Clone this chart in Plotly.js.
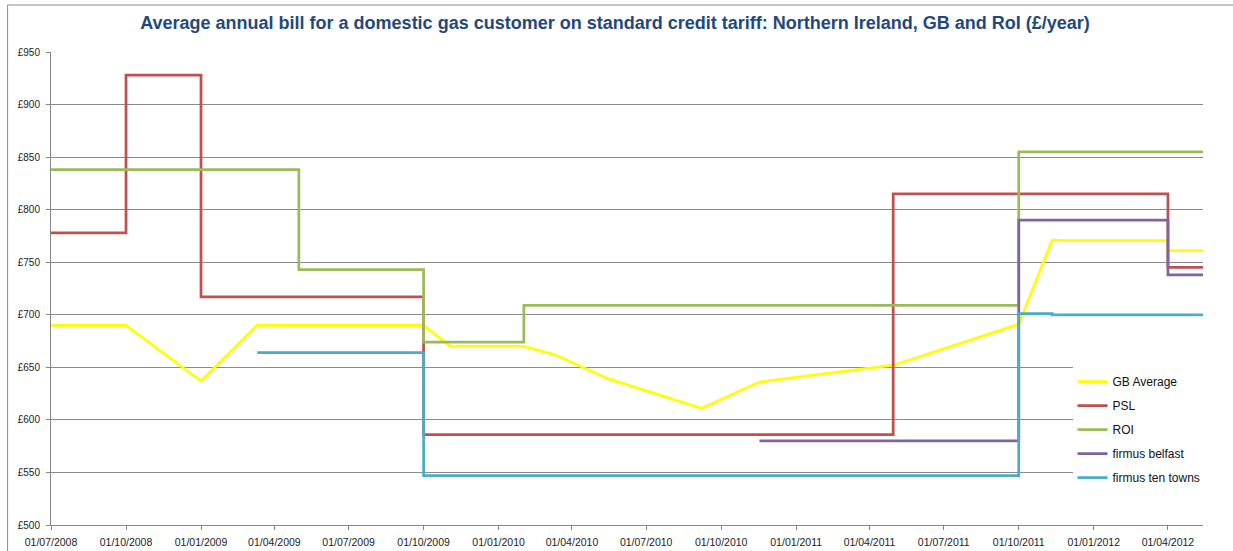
<!DOCTYPE html>
<html>
<head>
<meta charset="utf-8">
<script src="https://cdn.plot.ly/plotly-3.0.1.min.js"></script>
<style>
  html, body { margin: 0; padding: 0; background: #ffffff; }
  #chart { width: 1233px; height: 551px; }
</style>
</head>
<body>
<div id="chart"></div>
<script>
// ---- Data ----
const seriesNames = ["GB Average", "PSL", "ROI", "firmus belfast", "firmus ten towns"];

const gbDates = ["2008-07-01", "2008-10-01", "2009-01-01", "2009-03-11", "2009-10-01", "2009-11-03",
                 "2010-02-01", "2010-03-11", "2010-05-16", "2010-09-07", "2010-11-17", "2011-04-30",
                 "2011-10-01", "2011-11-11", "2011-11-25", "2012-04-01", "2012-04-01", "2012-05-14"];
const gbValues = [690, 690, 637, 690, 690, 670,
                  670, 662, 639, 611, 636, 652,
                  691, 771, 770.5, 770.5, 761, 761];

// step series: value holds from its date until the next date
const pslDates  = ["2008-07-01", "2008-10-01", "2009-01-01", "2009-10-01", "2011-04-30", "2012-04-01", "2012-05-14"];
const pslValues = [778, 928, 717, 586, 815, 745, 745];

const roiDates  = ["2008-07-01", "2009-05-01", "2009-10-01", "2010-02-01", "2011-10-01", "2012-05-14"];
const roiValues = [838, 743, 674, 709, 855, 855];

const belfastDates  = ["2010-11-17", "2011-10-01", "2012-04-01", "2012-05-14"];
const belfastValues = [580, 790, 738, 738];

const tenTownsDates  = ["2009-03-11", "2009-10-01", "2011-10-01", "2011-11-11", "2012-05-14"];
const tenTownsValues = [664, 547, 701, 700, 700];

const colors = ["#FFFF00", "#C0504D", "#9BBB59", "#8064A2", "#4BACC6"];

// ---- Layout geometry ----
const W = 1233, H = 551;
const mL = 51.4, mR = W - 1203.5, mT = 52, mB = H - 525;
const plotW = W - mL - mR, plotH = H - mT - mB;
const px2paperX = px => (px - mL) / plotW;
const px2paperY = py => (H - mB - py) / plotH;

function mk(i, x, y, shape) {
  return {
    type: "scatter", mode: "lines", name: seriesNames[i],
    x: x, y: y, legendgroup: "g" + i,
    line: { color: colors[i], width: 2.75, shape: shape },
    hoverinfo: "skip"
  };
}

const traces = [
  mk(0, gbDates, gbValues, "linear"),
  mk(1, pslDates, pslValues, "hv"),
  mk(2, roiDates, roiValues, "hv"),
  mk(3, belfastDates, belfastValues, "hv"),
  mk(4, tenTownsDates, tenTownsValues, "hv")
];

const layout = {
  width: W, height: H,
  margin: { l: mL, r: mR, t: mT, b: mB, pad: 0 },
  paper_bgcolor: "#ffffff", plot_bgcolor: "#ffffff",
  font: { family: "Liberation Sans, Arial, sans-serif", color: "#222222" },
  title: {
    text: "Average annual bill for a domestic gas customer on standard credit tariff: Northern Ireland, GB and RoI (£/year)",
    font: { family: "Liberation Sans, Arial, sans-serif", size: 18, color: "#1F497D", weight: "bold" },
    xref: "container", yref: "container",
    x: 615 / W, xanchor: "center",
    y: 1 - 23 / H, yanchor: "middle"
  },
  xaxis: {
    type: "date",
    range: ["2008-07-01", "2012-05-14"],
    tick0: "2008-07-01", dtick: "M3", tickformat: "%d/%m/%Y",
    showgrid: false, zeroline: false,
    showline: true, linecolor: "#868686", linewidth: 1,
    ticks: "outside", ticklen: 4, tickcolor: "#868686",
    tickfont: { size: 10.5, color: "#222222" },
    ticklabelstandoff: 3,
    fixedrange: true
  },
  yaxis: {
    range: [500, 950], dtick: 50, tick0: 500,
    tickprefix: "£",
    showgrid: true, gridcolor: "#8a8a8a", gridwidth: 1,
    zeroline: false,
    showline: true, linecolor: "#868686", linewidth: 1,
    ticks: "outside", ticklen: 4, tickcolor: "#868686",
    tickfont: { size: 10, color: "#222222" },
    ticklabelstandoff: 4,
    fixedrange: true
  },
  showlegend: true,
  legend: {
    x: px2paperX(1073), xanchor: "left",
    y: px2paperY(367), yanchor: "top",
    bgcolor: "#ffffff", borderwidth: 0,
    font: { family: "Liberation Sans, Arial, sans-serif", size: 12, color: "#111111" },
    tracegroupgap: 5,
    traceorder: "grouped"
  },
  shapes: [{
    type: "rect", xref: "paper", yref: "paper",
    x0: px2paperX(8), x1: px2paperX(1240),
    y0: px2paperY(560), y1: px2paperY(5),
    line: { color: "#8a8a8a", width: 1 }, fillcolor: "rgba(0,0,0,0)",
    layer: "below"
  }]
};

Plotly.newPlot("chart", traces, layout, { staticPlot: true, displayModeBar: false });
</script>
</body>
</html>
